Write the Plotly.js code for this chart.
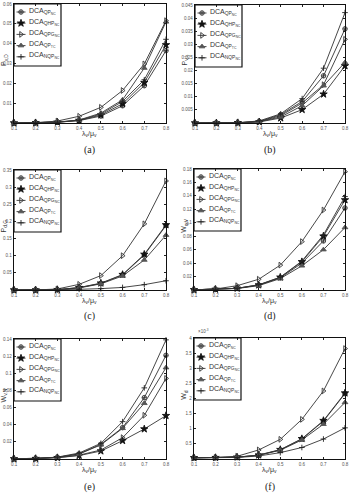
<!DOCTYPE html>
<html>
<head>
<meta charset="utf-8">
<script src="https://cdn.plot.ly/plotly-3.0.1.min.js"></script>
<style>
  html, body { margin: 0; padding: 0; background: #fff; }
  #chart { width: 351px; height: 494px; }
</style>
</head>
<body>
<div id="chart"></div>
<script>
// Traffic load on the x axis (lambda_v / mu_v)
const loads = [0.1, 0.2, 0.3, 0.4, 0.5, 0.6, 0.7, 0.8];

// Scheme names shown in every key box
const schemeNames = [
  'DCA<sub>QP<sub>NC</sub></sub>',
  'DCA<sub>QHP<sub>NC</sub></sub>',
  'DCA<sub>QPG<sub>NC</sub></sub>',
  'DCA<sub>QP<sub>TC</sub></sub>',
  'DCA<sub>NQP<sub>NC</sub></sub>'
];

// (a)
const a_QP    = [0, 0.0001, 0.0004, 0.0012, 0.0035, 0.0087, 0.0188, 0.0365];
const a_QHP   = [0, 0.0001, 0.0004, 0.0013, 0.0040, 0.0097, 0.0204, 0.0394];
const a_QPG   = [0, 0.0001, 0.0010, 0.0034, 0.0079, 0.0164, 0.0298, 0.0516];
const a_QPTC  = [0, 0.0001, 0.0005, 0.0015, 0.0050, 0.0117, 0.0277, 0.0510];
const a_NQP   = [0, 0.0001, 0.0004, 0.0014, 0.0045, 0.0109, 0.0218, 0.0422];
// (b)
const b_QP    = [0, 0.00002, 0.0001, 0.0006, 0.0032, 0.0082, 0.0180, 0.0359];
const b_QHP   = [0, 0.00002, 0.0001, 0.0004, 0.0019, 0.0051, 0.0110, 0.0218];
const b_QPG   = [0, 0.00002, 0.0001, 0.0005, 0.0028, 0.0076, 0.0146, 0.0319];
const b_QPTC  = [0, 0.00002, 0.0001, 0.0005, 0.0023, 0.0066, 0.0142, 0.0231];
const b_NQP   = [0, 0.00002, 0.0001, 0.0008, 0.0035, 0.0093, 0.0209, 0.0421];
// (c)
const c_QP    = [0, 0, 0.001, 0.007, 0.019, 0.044, 0.102, 0.188];
const c_QHP   = [0, 0, 0.001, 0.007, 0.020, 0.045, 0.104, 0.190];
const c_QPG   = [0, 0, 0.003, 0.0165, 0.042, 0.100, 0.193, 0.318];
const c_QPTC  = [0, 0, 0.001, 0.006, 0.018, 0.041, 0.0875, 0.160];
const c_NQP   = [0, 0, 0.0005, 0.002, 0.004, 0.0075, 0.0156, 0.027];
// (d)
const d_QP    = [0.0003, 0.001, 0.0025, 0.0074, 0.018, 0.040, 0.073, 0.122];
const d_QHP   = [0.0003, 0.001, 0.0025, 0.0074, 0.019, 0.042, 0.080, 0.134];
const d_QPG   = [0.0003, 0.0015, 0.0064, 0.016, 0.037, 0.072, 0.119, 0.176];
const d_QPTC  = [0.0003, 0.001, 0.0022, 0.0065, 0.017, 0.036, 0.060, 0.093];
const d_NQP   = [0.0003, 0.001, 0.0025, 0.0078, 0.019, 0.043, 0.082, 0.139];
// (e)
const e_QP    = [0.0002, 0.0006, 0.002, 0.006, 0.0171, 0.0366, 0.0716, 0.121];
const e_QHP   = [0.0002, 0.0005, 0.0015, 0.004, 0.0093, 0.0214, 0.035, 0.0506];
const e_QPG   = [0.0002, 0.0005, 0.0015, 0.0045, 0.0105, 0.0249, 0.051, 0.094];
const e_QPTC  = [0.0002, 0.0006, 0.002, 0.0058, 0.0165, 0.0358, 0.065, 0.1066];
const e_NQP   = [0.0002, 0.0006, 0.0022, 0.007, 0.0183, 0.0436, 0.083, 0.139];
// (f)
const f_QP    = [0.00004, 0.000045, 0.00006, 0.00013, 0.00030, 0.00066, 0.00125, 0.00216];
const f_QHP   = [0.00004, 0.000045, 0.00006, 0.00013, 0.00031, 0.00067, 0.00127, 0.00218];
const f_QPG   = [0.00004, 0.00005, 0.00009, 0.00030, 0.00065, 0.00131, 0.00225, 0.00365];
const f_QPTC  = [0.00004, 0.000045, 0.00006, 0.00012, 0.00029, 0.00063, 0.00115, 0.00187];
const f_NQP   = [0.00004, 0.000045, 0.00005, 0.00010, 0.00021, 0.00038, 0.00066, 0.00103];

// Y tick values / labels per panel
const a_ticks = [0.01, 0.02, 0.03, 0.04, 0.05, 0.06];
const b_ticks = [0.005, 0.01, 0.015, 0.02, 0.025, 0.03, 0.035, 0.04, 0.045];
const c_ticks = [0.05, 0.1, 0.15, 0.2, 0.25, 0.3, 0.35];
const d_ticks = [0.02, 0.04, 0.06, 0.08, 0.1, 0.12, 0.14, 0.16, 0.18];
const e_ticks = [0.02, 0.04, 0.06, 0.08, 0.1, 0.12, 0.14];
const f_ticks = [0.0005, 0.001, 0.0015, 0.002, 0.0025, 0.003, 0.0035, 0.004];
const f_tickText = ['0.5', '1', '1.5', '2', '2.5', '3', '3.5', '4'];
const xTickText = ['0.1', '0.2', '0.3', '0.4', '0.5', '0.6', '0.7', '0.8'];

const yTitles = ['P<sub>v,D</sub>', 'P<sub>v,L</sub>', 'P<sub>d,G</sub>',
                 'W<sub>q,V</sub>', 'W<sub>v,N</sub>', 'W<sub>d</sub>'];
const captions = ['(a)', '(b)', '(c)', '(d)', '(e)', '(f)'];

const panels = [
  { series: [a_QP, a_QHP, a_QPG, a_QPTC, a_NQP], range: [0, 0.06],  ticks: a_ticks },
  { series: [b_QP, b_QHP, b_QPG, b_QPTC, b_NQP], range: [0, 0.045], ticks: b_ticks },
  { series: [c_QP, c_QHP, c_QPG, c_QPTC, c_NQP], range: [0, 0.35],  ticks: c_ticks },
  { series: [d_QP, d_QHP, d_QPG, d_QPTC, d_NQP], range: [0, 0.18],  ticks: d_ticks },
  { series: [e_QP, e_QHP, e_QPG, e_QPTC, e_NQP], range: [0, 0.14],  ticks: e_ticks },
  { series: [f_QP, f_QHP, f_QPG, f_QPTC, f_NQP], range: [0, 0.004], ticks: f_ticks, tickText: f_tickText }
];

// Plot-area boxes in pixels [left, right, top, bottom]
const W = 351, H = 494;
const boxes = [
  [14, 166, 4, 123], [195, 345, 5, 123],
  [14, 166, 170, 290], [194, 345, 169, 290],
  [14, 166, 339, 459], [194, 345, 338, 459]
];
const captionY = [150, 150, 316, 316, 487, 487];

const markerStyles = [
  { symbol: 'circle-cross-open', size: 4.5, color: '#333' },
  { symbol: 'star', size: 5.5, color: '#111' },
  { symbol: 'triangle-right-open', size: 5, color: '#333' },
  { symbol: 'triangle-up', size: 5, color: '#555' },
  { symbol: 'cross-thin-open', size: 4, color: '#222' }
];

// key-box geometry (px, relative to a plot's top-left corner)
const KEY_W = 47, KEY_H = 62, KEY_ROW0 = 8, KEY_ROW_STEP = 11.2;
const KEY_SYM_X = 7, KEY_TEXT_X = 13;

const data = [];
const shapes = [];
const annotations = [];

const layout = {
  width: W, height: H,
  margin: { l: 0, r: 0, t: 0, b: 0 },
  paper_bgcolor: '#fff', plot_bgcolor: 'rgba(0,0,0,0)',
  font: { family: 'Liberation Sans, Arial, sans-serif', color: '#333' },
  showlegend: false,
  // full-page overlay axes (pixel units) that carry the key symbols
  xaxis7: { domain: [0, 1], range: [0, W], visible: false, anchor: 'y7', fixedrange: true },
  yaxis7: { domain: [0, 1], range: [H, 0], visible: false, anchor: 'x7', fixedrange: true },
  shapes: shapes,
  annotations: annotations
};

const keyX = markerStyles.map(() => []);
const keyY = markerStyles.map(() => []);

panels.forEach((p, i) => {
  const n = i + 1;
  const xa = 'x' + (n === 1 ? '' : n), ya = 'y' + (n === 1 ? '' : n);
  const [l, r, t, b] = boxes[i];

  p.series.forEach((vals, k) => {
    data.push({
      x: loads, y: vals, xaxis: xa, yaxis: ya,
      type: 'scatter', mode: 'lines+markers',
      name: schemeNames[k], cliponaxis: false,
      line: { color: '#333', width: 0.9 },
      marker: { symbol: markerStyles[k].symbol, size: markerStyles[k].size,
                color: markerStyles[k].color,
                line: { color: markerStyles[k].color, width: 0.9 } }
    });
  });

  layout['xaxis' + (n === 1 ? '' : n)] = {
    domain: [l / W, r / W], anchor: ya,
    range: [0.1, 0.8], tickvals: loads, ticktext: xTickText,
    ticks: 'inside', ticklen: 2, tickcolor: '#222', mirror: 'ticks',
    showline: true, linecolor: '#111', linewidth: 1.4,
    showgrid: false, zeroline: false,
    tickfont: { size: 4.5, color: '#555' }
  };
  layout['yaxis' + (n === 1 ? '' : n)] = {
    domain: [1 - b / H, 1 - t / H], anchor: xa,
    range: p.range, tickvals: p.ticks,
    ticktext: p.tickText || p.ticks.map(v => String(v)),
    ticks: 'inside', ticklen: 2, tickcolor: '#222', mirror: 'ticks',
    showline: true, linecolor: '#111', linewidth: 1.4,
    showgrid: false, zeroline: false,
    tickfont: { size: 4.5, color: '#555' }
  };

  // key box
  shapes.push({
    type: 'rect', xref: 'paper', yref: 'paper', layer: 'below',
    x0: l / W, x1: (l + KEY_W) / W, y0: 1 - (t + KEY_H) / H, y1: 1 - t / H,
    fillcolor: '#fff', line: { color: '#111', width: 1.2 }
  });
  schemeNames.forEach((name, k) => {
    const cy = t + KEY_ROW0 + k * KEY_ROW_STEP;
    const cx = l + KEY_SYM_X;
    shapes.push({
      type: 'line', xref: 'paper', yref: 'paper', layer: 'below',
      x0: (cx - 4.5) / W, x1: (cx + 4.5) / W, y0: 1 - cy / H, y1: 1 - cy / H,
      line: { color: '#333', width: 0.9 }
    });
    keyX[k].push(cx);
    keyY[k].push(cy);
    annotations.push({
      xref: 'paper', yref: 'paper',
      x: (l + KEY_TEXT_X) / W, y: 1 - (cy - 1) / H,
      xanchor: 'left', yanchor: 'middle', showarrow: false,
      text: name, font: { size: 7, color: '#333' }
    });
  });

  // x-axis label
  annotations.push({
    xref: 'paper', yref: 'paper',
    x: (l + r) / 2 / W, y: 1 - (b + 11) / H,
    xanchor: 'center', yanchor: 'middle', showarrow: false,
    text: 'λ<sub>v</sub>/μ<sub>v</sub>',
    font: { size: 7, color: '#333' }
  });
  // y-axis label
  annotations.push({
    xref: 'paper', yref: 'paper',
    x: (l - 10) / W, y: 1 - (t + (b - t) * 0.47) / H,
    xanchor: 'center', yanchor: 'middle', showarrow: false, textangle: -90,
    text: yTitles[i],
    font: { size: 7, color: '#333' }
  });
  // panel caption
  annotations.push({
    xref: 'paper', yref: 'paper',
    x: (l + r) / 2 / W, y: 1 - captionY[i] / H,
    xanchor: 'center', yanchor: 'middle', showarrow: false,
    text: captions[i],
    font: { size: 10, family: 'Liberation Serif, Times New Roman, serif', color: '#222' }
  });
});

// key symbols, one trace per marker style
markerStyles.forEach((m, k) => {
  data.push({
    x: keyX[k], y: keyY[k], xaxis: 'x7', yaxis: 'y7',
    type: 'scatter', mode: 'markers', cliponaxis: false, hoverinfo: 'skip',
    marker: { symbol: m.symbol, size: m.size, color: m.color,
              line: { color: m.color, width: 0.9 } }
  });
});

// exponent marker for panel (f)
annotations.push({
  xref: 'paper', yref: 'paper',
  x: 196 / W, y: 1 - 336 / H, xanchor: 'left', yanchor: 'bottom', showarrow: false,
  text: '×10<sup>-3</sup>', font: { size: 4.5, color: '#555' }
});

Plotly.newPlot('chart', data, layout, { displayModeBar: false, staticPlot: true });
</script>
</body>
</html>
